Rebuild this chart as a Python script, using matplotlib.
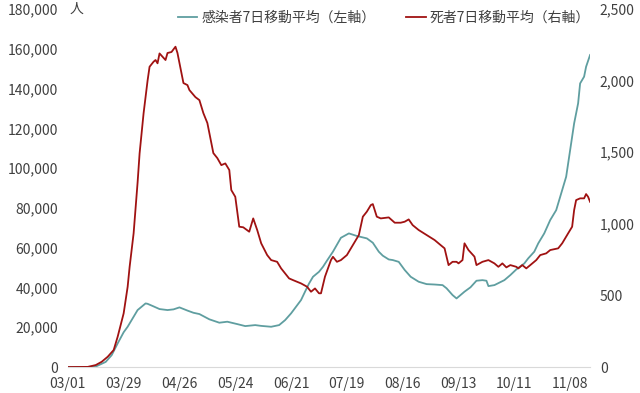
import matplotlib.pyplot as plt
import matplotlib.ticker as mticker
import numpy as np

plt.rcParams['font.family'] = ['Noto Sans CJK JP', 'DejaVu Sans']

# days since 03/01, 7-day moving averages
case_days = [0, 10, 14, 19, 22, 25, 28, 30, 33, 35, 39, 40, 43, 46, 50, 53,
             56, 60, 63, 66, 71, 76, 80, 85, 89, 94, 97, 102, 106, 109, 112,
             117, 119, 121, 123, 126, 128, 130, 133, 137, 141, 145, 150, 153,
             156, 158, 161, 163, 166, 169, 172, 176, 180, 184, 188, 190, 193,
             195, 199, 202, 205, 208, 210, 211, 214, 219, 222, 225, 229, 231,
             234, 236, 239, 242, 245, 247, 250, 252, 254, 256, 257, 259, 260,
             262]
cases = [0, 80, 250, 2600, 6000, 11900, 17500, 20260, 25300, 28660, 32000,
         31800, 30500, 29160, 28660, 29000, 30000, 28400, 27300, 26650, 24000,
         22300, 22800, 21600, 20600, 21100, 20700, 20260, 21100, 23600, 27000,
         33700, 37900, 42000, 45400, 47900, 50400, 53500, 58000, 65000, 67200,
         65900, 64700, 62500, 58000, 56000, 54100, 53800, 52900, 48800, 45400,
         42900, 41700, 41500, 41200, 39600, 36200, 34500, 37900, 40100, 43400,
         43700, 43400, 40700, 41200, 43700, 46250, 49100, 52100, 54700, 58000,
         62200, 67200, 73900, 78900, 85600, 95700, 109100, 122500, 132600,
         142600, 146000, 151000, 156900]

death_days = [0, 10, 14, 17, 20, 23, 25, 28, 30, 31, 33, 35, 36, 38, 40, 41,
              43, 44, 45, 46, 49, 50, 52, 54, 55, 57, 58, 60, 61, 64, 66, 68,
              70, 73, 75, 77, 79, 81, 82, 84, 86, 88, 91, 93, 95, 97, 100, 102,
              105, 107, 111, 113, 117, 120, 122, 124, 126, 127, 129, 132, 133,
              135, 137, 140, 143, 146, 148, 150, 152, 153, 155, 157, 161, 164,
              167, 169, 171, 173, 176, 180, 184, 187, 189, 191, 193, 195, 196,
              198, 199, 201, 204, 205, 208, 211, 214, 216, 218, 220, 222, 225,
              226, 228, 230, 232, 235, 237, 240, 242, 246, 248, 251, 253, 254,
              255, 257, 259, 260, 261, 262]
deaths = [0, 1, 14, 37, 72, 119, 212, 375, 560, 700, 934, 1290, 1492, 1772,
          2000, 2097, 2132, 2144, 2121, 2190, 2144, 2193, 2200, 2237, 2193,
          2053, 1983, 1969, 1934, 1885, 1864, 1773, 1704, 1494, 1459, 1410,
          1422, 1376, 1236, 1189, 980, 976, 945, 1038, 957, 864, 782, 747, 735,
          689, 619, 607, 584, 561, 526, 549, 515, 515, 631, 747, 770, 735, 747,
          782, 852, 922, 1050, 1085, 1131, 1138, 1050, 1038, 1045, 1008, 1008,
          1015, 1031, 991, 957, 922, 887, 852, 829, 712, 735, 735, 724, 747,
          864, 817, 771, 712, 735, 747, 724, 700, 724, 696, 712, 700, 689, 712,
          689, 712, 747, 782, 794, 817, 829, 864, 934, 980, 1096, 1166, 1178,
          1178, 1208, 1189, 1154]

tick_days = [0, 28, 56, 84, 112, 140, 168, 196, 224, 252]
tick_labels = ['03/01', '03/29', '04/26', '05/24', '06/21', '07/19',
               '08/16', '09/13', '10/11', '11/08']

case_color = '#5f9ea0'
death_color = '#a01212'
label_color = '#404040'

fig = plt.figure(figsize=(6.4, 3.93), dpi=100)
ax = fig.add_axes([0.106, 0.066, 0.816, 0.911])
ax2 = ax.twinx()

l1, = ax.plot(case_days, cases, color=case_color, lw=1.3,
              label='感染者7日移動平均（左軸）')
l2, = ax2.plot(death_days, deaths, color=death_color, lw=1.3,
               label='死者7日移動平均（右軸）')

ax.set_xlim(0, 262)
ax.set_ylim(0, 180000)
ax2.set_ylim(0, 2500)
ax.set_yticks(np.arange(0, 180001, 20000))
ax2.set_yticks(np.arange(0, 2501, 500))
ax.set_xticks(tick_days)
ax.set_xticklabels(tick_labels)

fmt = mticker.FuncFormatter(lambda v, p: f'{int(v):,}')
ax.yaxis.set_major_formatter(fmt)
ax2.yaxis.set_major_formatter(fmt)

for a in (ax, ax2):
    for s in a.spines.values():
        s.set_visible(False)
    a.tick_params(length=0, labelsize=10, colors=label_color)
ax.spines['bottom'].set_visible(True)
ax.spines['bottom'].set_color('#d9d9d9')
ax.tick_params(axis='y', pad=7)
ax2.tick_params(axis='y', pad=7)
ax.tick_params(axis='x', pad=7)

fig.text(0.109, 0.977, '人', fontsize=10, color=label_color, va='center')

fig.legend(handles=[l1, l2], loc='center', bbox_to_anchor=(0.6, 0.954),
           ncol=2, frameon=False, fontsize=10, handlelength=1.4,
           handletextpad=0.3, columnspacing=2.2, labelcolor=label_color)

fig.savefig('out.png', dpi=100)
